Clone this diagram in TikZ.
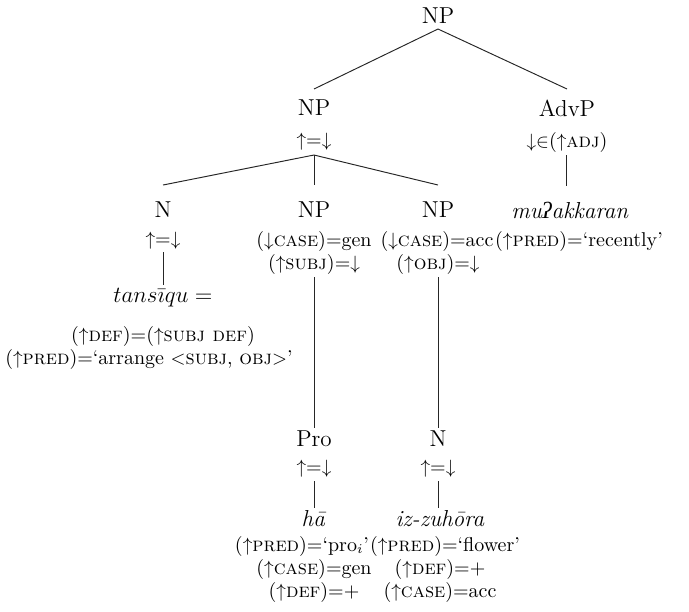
\documentclass[tikz,border=0pt]{standalone}
\usepackage{fontspec}
\newfontfamily\ipafont{Liberation Serif}
\begin{document}
\begin{tikzpicture}[x=0.52pt,y=-0.52pt,
  cat/.style={font=\large,inner sep=0pt,anchor=center},
  word/.style={font=\large,inner sep=0pt,anchor=center},
  ann/.style={font=\fontsize{10.4}{12.5}\selectfont,inner sep=0pt,anchor=center},
  br/.style={line width=0.5pt,black!85}]
\useasboundingbox (0,0) rectangle (689,611);
\newcommand{\up}{$\uparrow$}
\newcommand{\dn}{$\downarrow$}
% root
\node[cat] (np0) at (438,16) {NP};
\coordinate (np0b) at (438,29);
% NP1
\node[cat] (np1) at (314,108) {NP};
\coordinate (np1t) at (314,89);
\node[ann] (np1e) at (314,142) {\up=\dn};
\coordinate (np1b) at (314,155);
% AdvP
\node[cat] (advp) at (567,108) {AdvP};
\coordinate (advpt) at (567,89);
\node[ann] (advpe) at (567,142) {\dn$\in$(\up\textsc{adj})};
\coordinate (advpb) at (566,155);
\node[word] (mu) at (570,210) {\textit{mu{\ipafont\itshape ʔ}akkaran}};
\coordinate (mut) at (566,186);
\node[ann] (mup) at (579,241) {(\up\textsc{pred})=`recently'};
% N
\node[cat] (n1) at (163,210) {N};
\coordinate (n1t) at (163,185);
\node[ann] (n1e) at (163,241) {\up=\dn};
\coordinate (n1b) at (163,252);
\node[word] (tan) at (163,298) {$tans\bar{\imath}qu =$};
\coordinate (tant) at (163,285);
\node[ann] (tand) at (163,336) {(\up\textsc{def})=(\up\textsc{subj def})};
\node[ann] (tanp) at (149,359) {(\up\textsc{pred})=`arrange $<$\textsc{subj}, \textsc{obj}$>$'};
% NP middle
\node[cat] (np2) at (314,210) {NP};
\coordinate (np2t) at (314,185);
\node[ann] (np2c) at (314,241) {(\dn\textsc{case})=gen};
\node[ann] (np2s) at (314,264) {(\up\textsc{subj})=\dn};
\coordinate (np2b) at (314,277);
\node[cat] (pro) at (314,439) {Pro};
\coordinate (prot) at (314,428);
\node[ann] (proe) at (314,469) {\up=\dn};
\coordinate (prob) at (314,481);
\node[word] (ha) at (314,519) {\textit{hā}};
\coordinate (hat) at (314,508);
\node[ann] (ha1) at (302,546) {(\up\textsc{pred})=`pro$_i$'};
\node[ann] (ha2) at (314,569) {(\up\textsc{case})=gen};
\node[ann] (ha3) at (314,592) {(\up\textsc{def})=+};
% NP right
\node[cat] (np3) at (438,210) {NP};
\coordinate (np3t) at (438,185);
\node[ann] (np3c) at (437,241) {(\dn\textsc{case})=acc};
\node[ann] (np3o) at (438,264) {(\up\textsc{obj})=\dn};
\coordinate (np3b) at (438,277);
\node[cat] (n2) at (438,439) {N};
\coordinate (n2t) at (438,428);
\node[ann] (n2e) at (438,469) {\up=\dn};
\coordinate (n2b) at (438,481);
\node[word] (iz) at (440,519) {\textit{iz-zuh\=ora}};
\coordinate (izt) at (438,508);
\node[ann] (iz1) at (445,546) {(\up\textsc{pred})=`flower'};
\node[ann] (iz2) at (440,569) {(\up\textsc{def})=+};
\node[ann] (iz3) at (440,592) {(\up\textsc{case})=acc};
% branches
\draw[br] (np0b) -- (np1t);
\draw[br] (np0b) -- (advpt);
\draw[br] (np1b) -- (n1t);
\draw[br] (np1b) -- (np2t);
\draw[br] (np1b) -- (np3t);
\draw[br] (advpb) -- (mut);
\draw[br] (n1b) -- (tant);
\draw[br] (np2b) -- (prot);
\draw[br] (prob) -- (hat);
\draw[br] (np3b) -- (n2t);
\draw[br] (n2b) -- (izt);
\end{tikzpicture}
\end{document}
